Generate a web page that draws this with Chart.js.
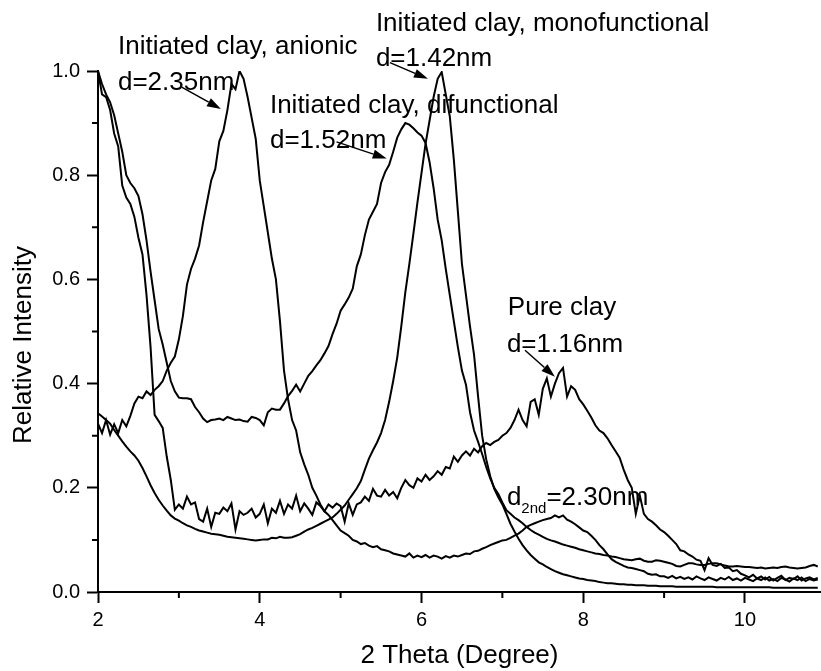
<!DOCTYPE html>
<html>
<head>
<meta charset="utf-8">
<script src="https://cdn.jsdelivr.net/npm/chart.js@4.4.0/dist/chart.umd.min.js"></script>
<style>
  html, body { margin: 0; padding: 0; background: #fff; }
  #wrap { width: 821px; height: 671px; position: relative; }
</style>
</head>
<body>
<div id="wrap"><canvas id="xrd"></canvas></div>
<script>
// 2 theta sampling (degree)
const twoTheta = [
  2, 2.05, 2.1, 2.15, 2.2, 2.25, 2.3, 2.35, 2.4, 2.45, 2.5, 2.55, 2.6, 2.65, 2.7, 2.75, 2.8, 2.85, 2.9, 2.95,
  3, 3.05, 3.1, 3.15, 3.2, 3.25, 3.3, 3.35, 3.4, 3.45, 3.5, 3.55, 3.6, 3.65, 3.7, 3.75, 3.8, 3.85, 3.9, 3.95,
  4, 4.05, 4.1, 4.15, 4.2, 4.25, 4.3, 4.35, 4.4, 4.45, 4.5, 4.55, 4.6, 4.65, 4.7, 4.75, 4.8, 4.85, 4.9, 4.95,
  5, 5.05, 5.1, 5.15, 5.2, 5.25, 5.3, 5.35, 5.4, 5.45, 5.5, 5.55, 5.6, 5.65, 5.7, 5.75, 5.8, 5.85, 5.9, 5.95,
  6, 6.05, 6.1, 6.15, 6.2, 6.25, 6.3, 6.35, 6.4, 6.45, 6.5, 6.55, 6.6, 6.65, 6.7, 6.75, 6.8, 6.85, 6.9, 6.95,
  7, 7.05, 7.1, 7.15, 7.2, 7.25, 7.3, 7.35, 7.4, 7.45, 7.5, 7.55, 7.6, 7.65, 7.7, 7.75, 7.8, 7.85, 7.9, 7.95,
  8, 8.05, 8.1, 8.15, 8.2, 8.25, 8.3, 8.35, 8.4, 8.45, 8.5, 8.55, 8.6, 8.65, 8.7, 8.75, 8.8, 8.85, 8.9, 8.95,
  9, 9.05, 9.1, 9.15, 9.2, 9.25, 9.3, 9.35, 9.4, 9.45, 9.5, 9.55, 9.6, 9.65, 9.7, 9.75, 9.8, 9.85, 9.9, 9.95,
  10, 10.05, 10.1, 10.15, 10.2, 10.25, 10.3, 10.35, 10.4, 10.45, 10.5, 10.55, 10.6, 10.65, 10.7, 10.75, 10.8, 10.85, 10.9
];

// relative intensities
const pureClay = [
  1.000, 0.955, 0.950, 0.925, 0.880, 0.855, 0.780, 0.757, 0.745, 0.720, 0.680, 0.648, 0.570, 0.470, 0.340, 0.328, 0.315, 0.260, 0.215, 0.158,
  0.168, 0.160, 0.183, 0.168, 0.172, 0.140, 0.135, 0.160, 0.125, 0.152, 0.150, 0.162, 0.155, 0.170, 0.120, 0.155, 0.148, 0.152, 0.160, 0.143,
  0.150, 0.168, 0.132, 0.160, 0.152, 0.175, 0.150, 0.168, 0.160, 0.185, 0.155, 0.170, 0.160, 0.148, 0.172, 0.165, 0.155, 0.168, 0.162, 0.170,
  0.165, 0.135, 0.170, 0.148, 0.168, 0.172, 0.183, 0.175, 0.198, 0.185, 0.183, 0.196, 0.185, 0.192, 0.180, 0.200, 0.215, 0.205, 0.200, 0.218,
  0.212, 0.225, 0.215, 0.222, 0.232, 0.225, 0.240, 0.237, 0.260, 0.250, 0.262, 0.270, 0.262, 0.275, 0.268, 0.280, 0.286, 0.282, 0.288, 0.292,
  0.300, 0.305, 0.315, 0.330, 0.350, 0.330, 0.318, 0.365, 0.370, 0.340, 0.390, 0.410, 0.375, 0.400, 0.420, 0.430, 0.375, 0.395, 0.388, 0.370,
  0.360, 0.348, 0.335, 0.320, 0.310, 0.305, 0.295, 0.282, 0.270, 0.258, 0.235, 0.215, 0.200, 0.150, 0.185, 0.150, 0.140, 0.135, 0.128, 0.120,
  0.115, 0.108, 0.100, 0.092, 0.080, 0.078, 0.072, 0.068, 0.062, 0.060, 0.042, 0.065, 0.052, 0.050, 0.054, 0.046, 0.047, 0.040, 0.042, 0.035,
  0.032, 0.028, 0.033, 0.026, 0.030, 0.024, 0.029, 0.022, 0.027, 0.031, 0.023, 0.027, 0.025, 0.030, 0.022, 0.026, 0.028, 0.024, 0.027
];

const anionic = [
  0.323, 0.305, 0.330, 0.302, 0.322, 0.305, 0.330, 0.318, 0.338, 0.362, 0.375, 0.372, 0.385, 0.378, 0.388, 0.395, 0.405, 0.425, 0.440, 0.452,
  0.485, 0.530, 0.590, 0.620, 0.640, 0.665, 0.710, 0.750, 0.790, 0.812, 0.865, 0.885, 0.925, 0.975, 0.965, 1.000, 0.985, 0.950, 0.910, 0.870,
  0.790, 0.740, 0.690, 0.640, 0.600, 0.520, 0.425, 0.370, 0.330, 0.310, 0.268, 0.245, 0.225, 0.200, 0.185, 0.168, 0.155, 0.148, 0.138, 0.128,
  0.118, 0.113, 0.108, 0.100, 0.097, 0.092, 0.094, 0.089, 0.086, 0.088, 0.082, 0.080, 0.078, 0.074, 0.072, 0.070, 0.068, 0.074, 0.066, 0.070,
  0.067, 0.071, 0.066, 0.070, 0.068, 0.064, 0.069, 0.066, 0.070, 0.068, 0.071, 0.074, 0.073, 0.078, 0.079, 0.083, 0.086, 0.090, 0.093, 0.096,
  0.099, 0.100, 0.104, 0.108, 0.112, 0.118, 0.125, 0.129, 0.132, 0.135, 0.138, 0.140, 0.142, 0.147, 0.143, 0.147, 0.139, 0.135, 0.130, 0.124,
  0.118, 0.115, 0.108, 0.100, 0.090, 0.082, 0.072, 0.063, 0.058, 0.054, 0.050, 0.047, 0.046, 0.044, 0.042, 0.040, 0.035, 0.033, 0.034, 0.030,
  0.030, 0.027, 0.031, 0.026, 0.029, 0.025, 0.028, 0.024, 0.030, 0.026, 0.023, 0.028, 0.025, 0.022, 0.027, 0.024, 0.029, 0.023, 0.026, 0.022,
  0.027, 0.024, 0.021, 0.026, 0.023, 0.028, 0.022, 0.025, 0.021, 0.027, 0.024, 0.020, 0.026, 0.023, 0.028, 0.021, 0.025, 0.022, 0.024
];

const difunctional = [
  1.000, 0.975, 0.955, 0.940, 0.915, 0.880, 0.845, 0.800, 0.785, 0.775, 0.760, 0.725, 0.675, 0.615, 0.560, 0.505, 0.475, 0.440, 0.405, 0.385,
  0.373, 0.372, 0.372, 0.370, 0.355, 0.345, 0.333, 0.326, 0.330, 0.331, 0.333, 0.330, 0.336, 0.333, 0.330, 0.331, 0.328, 0.327, 0.336, 0.334,
  0.330, 0.320, 0.345, 0.352, 0.350, 0.350, 0.362, 0.376, 0.386, 0.398, 0.385, 0.400, 0.415, 0.424, 0.435, 0.445, 0.458, 0.472, 0.495, 0.515,
  0.540, 0.552, 0.565, 0.582, 0.625, 0.648, 0.685, 0.715, 0.730, 0.745, 0.785, 0.806, 0.820, 0.845, 0.872, 0.888, 0.900, 0.897, 0.890, 0.882,
  0.876, 0.862, 0.825, 0.775, 0.715, 0.675, 0.620, 0.570, 0.520, 0.470, 0.425, 0.398, 0.345, 0.310, 0.288, 0.265, 0.240, 0.218, 0.200, 0.188,
  0.172, 0.157, 0.150, 0.143, 0.138, 0.132, 0.125, 0.119, 0.114, 0.110, 0.106, 0.102, 0.099, 0.097, 0.094, 0.091, 0.089, 0.087, 0.085, 0.082,
  0.080, 0.078, 0.076, 0.074, 0.073, 0.071, 0.070, 0.068, 0.067, 0.065, 0.063, 0.062, 0.061, 0.063, 0.064, 0.060, 0.058, 0.058, 0.061, 0.060,
  0.058, 0.056, 0.054, 0.050, 0.049, 0.052, 0.055, 0.055, 0.053, 0.052, 0.052, 0.054, 0.055, 0.055, 0.053, 0.051, 0.049, 0.049, 0.050, 0.049,
  0.048, 0.048, 0.047, 0.046, 0.047, 0.045, 0.046, 0.047, 0.046, 0.048, 0.049, 0.047, 0.046, 0.045, 0.046, 0.047, 0.050, 0.052, 0.049
];

const monofunctional = [
  0.343, 0.337, 0.330, 0.323, 0.311, 0.300, 0.289, 0.279, 0.270, 0.262, 0.252, 0.238, 0.222, 0.205, 0.190, 0.177, 0.166, 0.156, 0.147, 0.141,
  0.137, 0.132, 0.128, 0.125, 0.121, 0.118, 0.116, 0.114, 0.112, 0.111, 0.110, 0.108, 0.106, 0.105, 0.104, 0.103, 0.102, 0.101, 0.100, 0.099,
  0.100, 0.101, 0.101, 0.104, 0.103, 0.106, 0.104, 0.104, 0.105, 0.108, 0.111, 0.116, 0.120, 0.123, 0.127, 0.131, 0.135, 0.139, 0.143, 0.150,
  0.158, 0.166, 0.177, 0.188, 0.199, 0.213, 0.235, 0.256, 0.272, 0.287, 0.305, 0.330, 0.365, 0.405, 0.450, 0.510, 0.575, 0.630, 0.688, 0.748,
  0.804, 0.860, 0.905, 0.950, 0.985, 0.998, 0.955, 0.913, 0.830, 0.730, 0.630, 0.570, 0.510, 0.455, 0.375, 0.300, 0.255, 0.222, 0.198, 0.182,
  0.168, 0.150, 0.131, 0.116, 0.102, 0.090, 0.080, 0.071, 0.064, 0.057, 0.053, 0.048, 0.044, 0.040, 0.037, 0.034, 0.032, 0.030, 0.028, 0.026,
  0.025, 0.023, 0.022, 0.021, 0.019, 0.018, 0.017, 0.017, 0.016, 0.015, 0.015, 0.014, 0.014, 0.013, 0.013, 0.013, 0.012, 0.012, 0.012, 0.011,
  0.011, 0.011, 0.011, 0.010, 0.010, 0.010, 0.010, 0.010, 0.010, 0.010, 0.010, 0.010, 0.010, 0.009, 0.009, 0.009, 0.009, 0.009, 0.009, 0.009,
  0.009, 0.009, 0.009, 0.009, 0.009, 0.009, 0.009, 0.008, 0.008, 0.008, 0.008, 0.008, 0.008, 0.008, 0.008, 0.008, 0.008, 0.008, 0.008
];

const xTicks = [2, 4, 6, 8, 10];
const xMinorTicks = [3, 5, 7, 9];
const yTicks = [0, 0.2, 0.4, 0.6, 0.8, 1.0];
const yMinorTicks = [0.1, 0.3, 0.5, 0.7, 0.9];

// text labels, anchored at left/baseline in axis units
const notes = [
  { text: "Initiated clay, anionic", x: 2.247, y: 1.032 },
  { text: "d=2.35nm", x: 2.247, y: 0.9635 },
  { text: "Initiated clay, difunctional", x: 4.126, y: 0.919 },
  { text: "d=1.52nm", x: 4.126, y: 0.852 },
  { text: "Initiated clay, monofunctional", x: 5.436, y: 1.077 },
  { text: "d=1.42nm", x: 5.436, y: 1.010 },
  { text: "Pure clay", x: 7.068, y: 0.531 },
  { text: "d=1.16nm", x: 7.056, y: 0.461 }
];
const secondOrder = { main: "d", sub: "2nd", rest: "=2.30nm", x: 7.056, y: 0.1665 };

// arrows pointing at the peaks, in axis units
const arrows = [
  { from: [3.035, 0.969], to: [3.52, 0.927] },
  { from: [4.95, 0.864], to: [5.57, 0.832] },
  { from: [5.61, 1.016], to: [6.08, 0.985] },
  { from: [7.28, 0.464], to: [7.65, 0.413] }
];

const FONT = '"Liberation Sans", Arial, Helvetica, sans-serif';
Chart.defaults.font.family = FONT;
Chart.defaults.color = '#000';

const toPoints = (ys) => ys.map((v, i) => ({ x: twoTheta[i], y: v }));

const lineStyle = {
  borderColor: '#000',
  borderWidth: 2,
  pointRadius: 0,
  tension: 0,
  fill: false
};

// minor ticks, labels, arrows and the y title
const extras = {
  id: 'extras',
  afterDraw(chart) {
    const { ctx, scales: { x, y } } = chart;
    ctx.save();
    ctx.strokeStyle = '#000';
    ctx.lineWidth = 2;
    ctx.beginPath();
    xMinorTicks.forEach((v) => {
      const px = x.getPixelForValue(v);
      ctx.moveTo(px, y.bottom);
      ctx.lineTo(px, y.bottom + 6);
    });
    yMinorTicks.forEach((v) => {
      const py = y.getPixelForValue(v);
      ctx.moveTo(x.left, py);
      ctx.lineTo(x.left - 6, py);
    });
    ctx.stroke();

    ctx.fillStyle = '#000';
    ctx.textAlign = 'left';
    ctx.textBaseline = 'alphabetic';
    ctx.font = '26px ' + FONT;
    notes.forEach((n) => {
      ctx.fillText(n.text, x.getPixelForValue(n.x), y.getPixelForValue(n.y));
    });

    // d with subscript 2nd
    let sx = x.getPixelForValue(secondOrder.x);
    const sy = y.getPixelForValue(secondOrder.y);
    ctx.fillText(secondOrder.main, sx, sy);
    sx += ctx.measureText(secondOrder.main).width;
    ctx.font = '15px ' + FONT;
    ctx.fillText(secondOrder.sub, sx, sy + 8);
    sx += ctx.measureText(secondOrder.sub).width;
    ctx.font = '26px ' + FONT;
    ctx.fillText(secondOrder.rest, sx, sy);

    ctx.lineWidth = 1.5;
    arrows.forEach((a) => {
      const x0 = x.getPixelForValue(a.from[0]), y0 = y.getPixelForValue(a.from[1]);
      const x1 = x.getPixelForValue(a.to[0]), y1 = y.getPixelForValue(a.to[1]);
      const ang = Math.atan2(y1 - y0, x1 - x0);
      const len = 14, half = 4.5;
      const bx = x1 - len * Math.cos(ang), by = y1 - len * Math.sin(ang);
      ctx.beginPath();
      ctx.moveTo(x0, y0);
      ctx.lineTo(bx, by);
      ctx.stroke();
      ctx.beginPath();
      ctx.moveTo(x1, y1);
      ctx.lineTo(bx + half * Math.sin(ang), by - half * Math.cos(ang));
      ctx.lineTo(bx - half * Math.sin(ang), by + half * Math.cos(ang));
      ctx.closePath();
      ctx.fill();
    });

    // y axis title
    ctx.translate(24, 345);
    ctx.rotate(-Math.PI / 2);
    ctx.textAlign = 'center';
    ctx.textBaseline = 'middle';
    ctx.font = '26px ' + FONT;
    ctx.fillText('Relative Intensity', 0, 0);
    ctx.restore();
  }
};

new Chart(document.getElementById('xrd'), {
  type: 'line',
  data: {
    datasets: [
      { label: 'Pure clay', data: toPoints(pureClay), ...lineStyle },
      { label: 'Initiated clay, anionic', data: toPoints(anionic), ...lineStyle },
      { label: 'Initiated clay, difunctional', data: toPoints(difunctional), ...lineStyle },
      { label: 'Initiated clay, monofunctional', data: toPoints(monofunctional), ...lineStyle }
    ]
  },
  options: {
    responsive: true,
    maintainAspectRatio: false,
    animation: false,
    events: [],
    layout: { padding: { top: 71, left: 0, right: 0, bottom: 0 } },
    plugins: {
      legend: { display: false },
      tooltip: { enabled: false }
    },
    scales: {
      x: {
        type: 'linear',
        min: 2,
        max: 10.94,
        afterBuildTicks: (s) => { s.ticks = xTicks.map((v) => ({ value: v })); },
        afterFit: (s) => { s.height = 79; },
        grid: { drawOnChartArea: false, tickLength: 11, tickWidth: 2, tickColor: '#000' },
        border: { display: true, color: '#000', width: 2 },
        ticks: { font: { size: 20 }, padding: 5, maxRotation: 0, callback: (v) => String(v) },
        title: { display: true, text: '2 Theta (Degree)', font: { size: 26 }, padding: { top: 0, bottom: 0 } }
      },
      y: {
        type: 'linear',
        min: 0,
        max: 1,
        afterBuildTicks: (s) => { s.ticks = yTicks.map((v) => ({ value: v })); },
        afterFit: (s) => { s.width = 98; },
        grid: { drawOnChartArea: false, tickLength: 11, tickWidth: 2, tickColor: '#000' },
        border: { display: true, color: '#000', width: 2 },
        ticks: { font: { size: 20 }, padding: 7, callback: (v) => v.toFixed(1) }
      }
    }
  },
  plugins: [extras]
});
</script>
</body>
</html>
